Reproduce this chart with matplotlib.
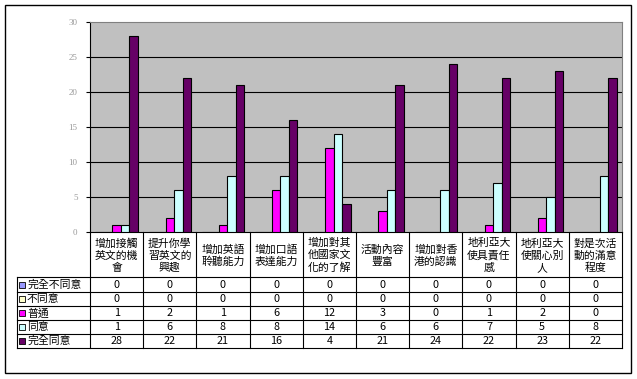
import matplotlib.pyplot as plt
import numpy as np
from matplotlib.patches import Rectangle

plt.rcParams['font.family'] = ['Noto Sans CJK TC', 'DejaVu Sans']

# 資料
categories = ["增加接觸\n英文的機\n會", "提升你學\n習英文的\n興趣", "增加英語\n聆聽能力", "增加口語\n表達能力",
              "增加對其\n他國家文\n化的了解", "活動內容\n豐富", "增加對香\n港的認識", "地利亞大\n使具責任\n感",
              "地利亞大\n使關心別\n人", "對是次活\n動的滿意\n程度"]
series_names = ["完全不同意", "不同意", "普通", "同意", "完全同意"]
strongly_disagree = [0, 0, 0, 0, 0, 0, 0, 0, 0, 0]
disagree = [0, 0, 0, 0, 0, 0, 0, 0, 0, 0]
neutral = [1, 2, 1, 6, 12, 3, 0, 1, 2, 0]
agree = [1, 6, 8, 8, 14, 6, 6, 7, 5, 8]
strongly_agree = [28, 22, 21, 16, 4, 21, 24, 22, 23, 22]
yticks = [0, 5, 10, 15, 20, 25, 30]

series = [strongly_disagree, disagree, neutral, agree, strongly_agree]
colors = ['#9999FF', '#FFFFCC', '#FF00FF', '#CCFFFF', '#660066']

W, H = 637, 379
fig = plt.figure(figsize=(W / 100, H / 100), dpi=100)

# 圖表區 (像素座標)
left, right, top, bottom = 90, 622, 22, 232
ax = fig.add_axes([left / W, 1 - bottom / H, (right - left) / W, (bottom - top) / H])
ax.set_facecolor('#C0C0C0')

n = len(categories)
x = np.arange(n)
w = 0.16
for i, (vals, c) in enumerate(zip(series, colors)):
    ax.bar(x + (i - 2) * w, vals, w, color=c, edgecolor='black', linewidth=0.8, zorder=3)

ax.set_xlim(-0.5, n - 0.5)
ax.set_ylim(0, 30)
ax.set_yticks(yticks)
ax.set_xticks([])
for yv in yticks[1:-1]:
    ax.axhline(yv, color='black', linewidth=0.8, zorder=1)
ax.tick_params(axis='y', length=3, width=0.8, color='black', labelcolor='#999999',
               labelsize=6.5, pad=6)
for lbl in ax.get_yticklabels():
    lbl.set_family('Liberation Serif')
ax.spines['left'].set_color('black')
ax.spines['bottom'].set_color('black')
ax.spines['top'].set_color('#808080')
ax.spines['right'].set_color('#808080')

# 資料表 (疊加層)
ov = fig.add_axes([0, 0, 1, 1])
ov.set_xlim(0, W)
ov.set_ylim(H, 0)
ov.axis('off')
ov.patch.set_visible(False)

ov.add_patch(Rectangle((5, 5), 626, 368, fill=False, edgecolor='black', linewidth=1.0))

colw = (right - left) / n
rows_y = [277, 292, 306, 320, 334, 348]
lw = 0.8
ov.plot([left, left], [bottom, rows_y[-1]], color='black', lw=lw)
for j in range(1, n + 1):
    xx = left + j * colw
    ov.plot([xx, xx], [bottom, rows_y[-1]], color='black', lw=lw)
ov.plot([17, 17], [rows_y[0], rows_y[-1]], color='black', lw=lw)
for yy in rows_y:
    ov.plot([17, right], [yy, yy], color='black', lw=lw)

fs = 7.8
for j, cat in enumerate(categories):
    ov.text(left + (j + 0.5) * colw, (bottom + rows_y[0]) / 2 + 1, cat, ha='center', va='center',
            fontsize=fs, linespacing=1.25)

for r, (name, vals, c) in enumerate(zip(series_names, series, colors)):
    yc = (rows_y[r] + rows_y[r + 1]) / 2
    ov.add_patch(Rectangle((19, yc - 3), 6, 6, facecolor=c, edgecolor='black', linewidth=0.6))
    ov.text(27, yc, name, ha='left', va='center', fontsize=fs)
    for j, v in enumerate(vals):
        ov.text(left + (j + 0.5) * colw, yc, str(v), ha='center', va='center', fontsize=fs)

fig.savefig('out.png', dpi=100)
